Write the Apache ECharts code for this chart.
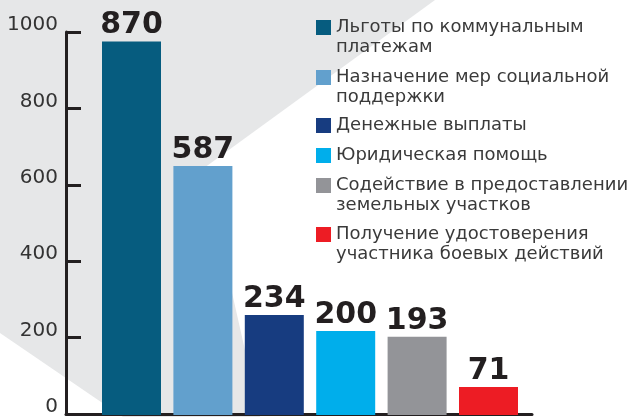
<!DOCTYPE html>
<html>
<head>
<meta charset="utf-8">
<script src="https://cdn.jsdelivr.net/npm/echarts@6/dist/echarts.min.js"></script>
<style>
  html, body { margin: 0; padding: 0; background: #fff; }
  #chart { width: 637px; height: 417px; }
</style>
</head>
<body>
<div id="chart"></div>
<script>
// категории (легенда)
const categories = [
  'Льготы по коммунальным\nплатежам',
  'Назначение мер социальной\nподдержки',
  'Денежные выплаты',
  'Юридическая помощь',
  'Содействие в предоставлении\nземельных участков',
  'Получение удостоверения\nучастника боевых действий'
]
// высота столбцов по оси (как нарисовано) и подписи над ними
const barValues = [975, 650, 261, 219, 204, 73]
const barLabels = ['870', '587', '234', '200', '193', '71']
const colors = ['#065c7f', '#62a0cd', '#173c80', '#00aeeb', '#939498', '#ed1c24']
const legendTops = [-2.5, 47.5, 115.5, 145.5, 155.5, 204.5]

const chart = echarts.init(document.getElementById('chart'))

const series = categories.map((name, i) => ({
  name: name,
  type: 'bar',
  xAxisIndex: 1,
  yAxisIndex: 1,
  stack: 'all',
  barWidth: 59,
  itemStyle: { color: colors[i] },
  data: barValues.map((v, j) => (j === i ? v : '-')),
  label: {
    show: true,
    position: 'top',
    distance: 1,
    formatter: () => barLabels[i],
    color: '#231f20',
    fontFamily: 'DejaVu Sans',
    fontWeight: 'bold',
    fontSize: 30
  }
}))

const legends = categories.map((name, i) => ({
  data: [name],
  orient: 'vertical',
  left: 316,
  top: legendTops[i],
  padding: 0,
  icon: 'rect',
  itemWidth: 15,
  itemHeight: 15,
  selectedMode: false,
  formatter: n => (n.indexOf('\n') >= 0 ? '\n' + n : n),
  textStyle: {
    fontFamily: 'DejaVu Sans',
    fontSize: 18,
    lineHeight: 20,
    color: '#3a3a3a'
  }
}))

const option = {
  animation: false,
  backgroundColor: '#fff',
  graphic: [{
    type: 'polygon',
    z: -10,
    shape: { points: [[0, 0], [435, 0], [204, 168], [260, 417], [123, 417], [0, 333]] },
    style: { fill: '#e6e7e8' }
  }],
  legend: legends,
  grid: [
    { left: 66, right: 105, top: 32, bottom: 2 },
    { left: 95.8, width: 428.4, top: 32, bottom: 2 }
  ],
  xAxis: [
    {
      gridIndex: 0, type: 'value', min: 0, max: 1,
      axisLine: { show: true, lineStyle: { color: '#231f20', width: 3 } },
      axisTick: { show: false }, axisLabel: { show: false }, splitLine: { show: false }
    },
    {
      gridIndex: 1, type: 'category', data: categories, show: false
    }
  ],
  yAxis: [
    {
      gridIndex: 0, type: 'value', min: 0, max: 1000, interval: 200,
      axisLine: { show: true, lineStyle: { color: '#231f20', width: 3 } },
      axisTick: { show: true, inside: true, length: 15, lineStyle: { color: '#231f20', width: 3 } },
      splitLine: { show: false },
      axisLabel: {
        margin: 8,
        color: '#333',
        fontFamily: 'DejaVu Sans',
        fontSize: 20,
        verticalAlign: 'bottom',
        lineHeight: 14,
        formatter: v => String(v)
      }
    },
    {
      gridIndex: 1, type: 'value', min: 0, max: 1000, show: false
    }
  ],
  series: series
}

chart.setOption(option)
</script>
</body>
</html>
